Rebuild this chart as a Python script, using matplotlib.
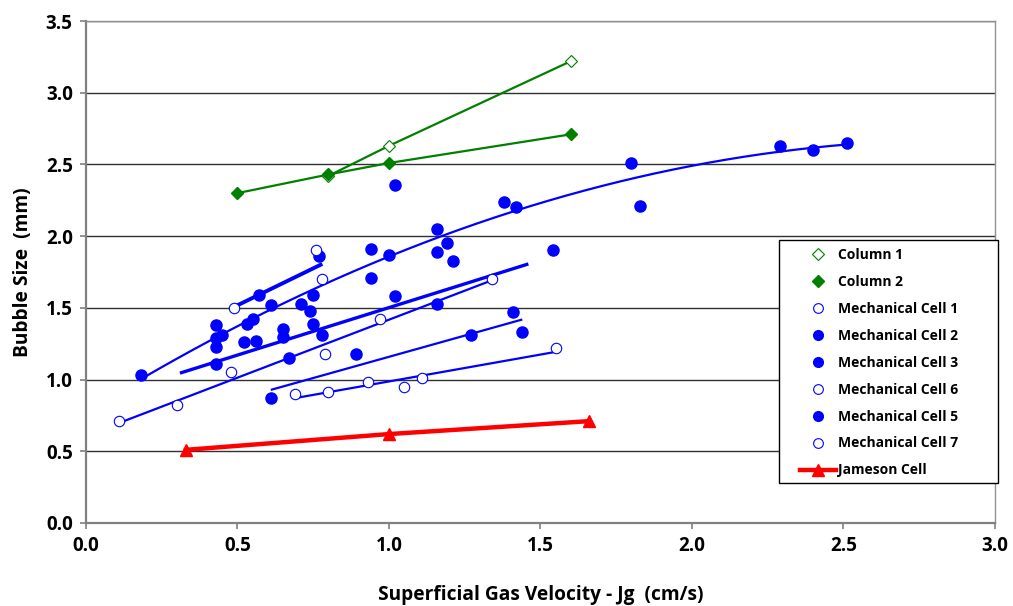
import numpy as np
import matplotlib
matplotlib.use("Agg")
import matplotlib.pyplot as plt
from matplotlib.lines import Line2D
from matplotlib.patches import Rectangle

plt.rcParams['font.family'] = ['Open Sans', 'DejaVu Sans']
plt.rcParams['font.weight'] = 'bold'

# --- data -------------------------------------------------------------
col1_x = [0.80, 1.00, 1.60]
col1_y = [2.42, 2.63, 3.22]

col2_x = [0.50, 0.80, 1.00, 1.60]
col2_y = [2.30, 2.43, 2.51, 2.71]

mech1_x = [0.11, 0.30, 0.48, 0.79, 0.97, 1.34]
mech1_y = [0.71, 0.82, 1.05, 1.18, 1.42, 1.70]

mech2_x = [0.18, 0.43, 0.43, 0.45, 0.43, 0.53, 0.55, 0.57, 0.61, 0.71, 0.74,
           0.75, 0.65, 0.75, 0.77, 0.94, 1.00, 0.94, 1.02, 1.16, 1.19, 1.16,
           1.21, 1.38, 1.42, 1.80, 1.83, 2.29, 2.40, 2.51]
mech2_y = [1.03, 1.38, 1.29, 1.31, 1.23, 1.39, 1.42, 1.59, 1.52, 1.53, 1.48,
           1.59, 1.35, 1.39, 1.86, 1.91, 1.87, 1.71, 2.36, 2.05, 1.95, 1.89,
           1.83, 2.24, 2.20, 2.51, 2.21, 2.63, 2.60, 2.65]

mech3_x = [0.43, 0.52, 0.56, 0.65, 0.67, 0.78, 1.02, 1.16, 1.54]
mech3_y = [1.11, 1.26, 1.27, 1.30, 1.15, 1.31, 1.58, 1.53, 1.90]

mech6_x = [0.49, 0.76, 0.78]
mech6_y = [1.50, 1.90, 1.70]

mech5_x = [0.61, 0.89, 1.27, 1.41, 1.44]
mech5_y = [0.87, 1.18, 1.31, 1.47, 1.33]

mech7_x = [0.69, 0.80, 0.93, 1.05, 1.11, 1.55]
mech7_y = [0.90, 0.91, 0.98, 0.95, 1.01, 1.22]

jameson_x = [0.33, 1.00, 1.66]
jameson_y = [0.51, 0.62, 0.71]

x_ticks = [0.0, 0.5, 1.0, 1.5, 2.0, 2.5, 3.0]
y_ticks = [0.0, 0.5, 1.0, 1.5, 2.0, 2.5, 3.0, 3.5]

# --- figure -----------------------------------------------------------
fig = plt.figure(figsize=(10.13, 6.06), dpi=100)
ax = fig.add_axes([0.0849, 0.137, 0.8973, 0.8283])

BLUE = '#0000ff'
GREEN = '#008000'
RED = '#ff0000'


def trend(xs, ys, deg=1, back=0.0, fwd=0.0, lw=1.6):
    """Least-squares trendline, drawn over the data range (+/- forecast)."""
    coef = np.polyfit(xs, ys, deg)
    xx = np.linspace(min(xs) - back, max(xs) + fwd, 200)
    ax.plot(xx, np.polyval(coef, xx), color=BLUE, lw=lw, zorder=3,
            solid_capstyle='butt')


# trendlines of the mechanical cells
trend(mech1_x, mech1_y)
trend(mech2_x, mech2_y, deg=2)
trend(mech3_x, mech3_y, back=0.12, fwd=-0.08, lw=2.4)
trend(mech6_x, mech6_y, lw=2.8)
trend(mech5_x, mech5_y)
trend(mech7_x, mech7_y)

# flotation columns and Jameson cell
ax.plot(col1_x, col1_y, color=GREEN, lw=1.6, marker='D', ms=6,
        mfc='white', mec=GREEN, mew=0.8, zorder=4)
ax.plot(col2_x, col2_y, color=GREEN, lw=1.6, marker='D', ms=6,
        mfc=GREEN, mec=GREEN, zorder=4)
ax.plot(jameson_x, jameson_y, color=RED, lw=3.2, marker='^', ms=9,
        mfc=RED, mec=RED, zorder=4)

open_kw = dict(ls='none', marker='o', ms=7.5, mfc='white', mec=BLUE, mew=0.8, zorder=5)
fill_kw = dict(ls='none', marker='o', ms=8, mfc=BLUE, mec=BLUE, zorder=5)
ax.plot(mech1_x, mech1_y, **open_kw)
ax.plot(mech2_x, mech2_y, **fill_kw)
ax.plot(mech3_x, mech3_y, **fill_kw)
ax.plot(mech6_x, mech6_y, **open_kw)
ax.plot(mech5_x, mech5_y, **fill_kw)
ax.plot(mech7_x, mech7_y, **open_kw)

# --- axes styling -----------------------------------------------------
ax.set_xlim(0, 3.0)
ax.set_ylim(0, 3.5)
ax.set_xticks(x_ticks)
ax.set_yticks(y_ticks)
ax.set_xticklabels([f'{v:.1f}' for v in x_ticks])
ax.set_yticklabels([f'{v:.1f}' for v in y_ticks])
ax.tick_params(axis='both', direction='out', length=4.5, width=1.2,
               color='#808080', labelsize=13.5, pad=5)
for lab in ax.get_xticklabels() + ax.get_yticklabels():
    lab.set_fontweight('bold')

ax.yaxis.grid(True, color='#303030', lw=1.0)
ax.set_axisbelow(True)
for side in ('left', 'bottom'):
    ax.spines[side].set_color('#808080')
    ax.spines[side].set_linewidth(1.6)
for side in ('top', 'right'):
    ax.spines[side].set_color('#909090')
    ax.spines[side].set_linewidth(1.0)

ax.set_xlabel('Superficial Gas Velocity - Jg  (cm/s)', fontsize=13.8,
              fontweight='bold')
ax.set_ylabel('Bubble Size  (mm)', fontsize=13.8, fontweight='bold')
ax.xaxis.set_label_coords(0.5, -0.124)
ax.yaxis.set_label_coords(-0.058, 0.5)

# --- legend -----------------------------------------------------------
handles = [
    Line2D([], [], ls='none', marker='D', ms=6, mfc='white', mec=GREEN, mew=0.8),
    Line2D([], [], ls='none', marker='D', ms=6, mfc=GREEN, mec=GREEN),
    Line2D([], [], ls='none', marker='o', ms=7, mfc='white', mec=BLUE, mew=0.8),
    Line2D([], [], ls='none', marker='o', ms=7, mfc=BLUE, mec=BLUE),
    Line2D([], [], ls='none', marker='o', ms=7, mfc=BLUE, mec=BLUE),
    Line2D([], [], ls='none', marker='o', ms=7, mfc='white', mec=BLUE, mew=0.8),
    Line2D([], [], ls='none', marker='o', ms=7, mfc=BLUE, mec=BLUE),
    Line2D([], [], ls='none', marker='o', ms=7, mfc='white', mec=BLUE, mew=0.8),
    Line2D([], [], color=RED, lw=3.2, marker='^', ms=8, mfc=RED, mec=RED),
]
labels = ['Column 1', 'Column 2', 'Mechanical Cell 1', 'Mechanical Cell 2',
          'Mechanical Cell 3', 'Mechanical Cell 6', 'Mechanical Cell 5',
          'Mechanical Cell 7', 'Jameson Cell']

# legend box drawn as its own frame, wider than the entries
frame = Rectangle((0.769, 0.203), 0.2162, 0.401, transform=fig.transFigure,
                  facecolor='white', edgecolor='black', lw=1.0, zorder=5)
fig.patches.append(frame)

leg = fig.legend(handles, labels, loc='upper left',
                 bbox_to_anchor=(0.7897, 0.5907),
                 frameon=False, prop={'size': 10, 'weight': 'bold'},
                 labelspacing=0.93, handlelength=2.6, handletextpad=0.15,
                 borderpad=0, borderaxespad=0)
leg.set_zorder(6)

fig.savefig('out.png', dpi=100)
